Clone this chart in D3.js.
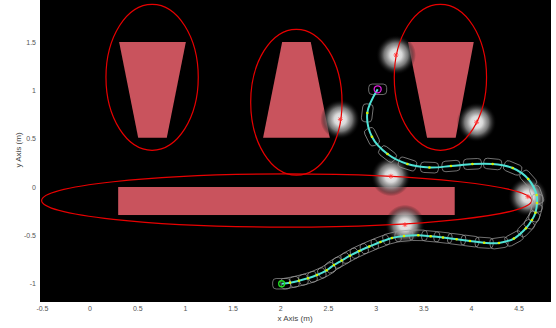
<!DOCTYPE html>
<html>
<head>
<meta charset="utf-8">
<script src="https://cdn.jsdelivr.net/npm/d3@7"></script>
<style>
  body { margin: 0; background: #fff; }
  text { font-family: "Liberation Sans", Arial, sans-serif; }
</style>
</head>
<body>
<svg id="chart" width="556" height="328"></svg>
<script>
// ticks
var xTicks = [-0.5, 0, 0.5, 1, 1.5, 2, 2.5, 3, 3.5, 4, 4.5];
var yTicks = [-1, -0.5, 0, 0.5, 1, 1.5];

// trapezoid obstacles: top left/right x, bottom left/right x, top y, bottom y
var trapTopL = [0.31, 2.02, 3.34];
var trapTopR = [1.01, 2.32, 4.03];
var trapBotL = [0.51, 1.82, 3.54];
var trapBotR = [0.81, 2.52, 3.84];
var trapTopY = [1.5, 1.5, 1.5];
var trapBotY = [0.51, 0.51, 0.51];

// long rectangle obstacle [x0, x1, y0, y1]
var wallRect = [0.30, 3.83, -0.29, 0.0];

// safety ellipses
var ellCx = [0.656, 2.169, 3.68, 2.067];
var ellCy = [1.135, 0.877, 1.135, -0.14];
var ellRx = [0.484, 0.479, 0.484, 2.57];
var ellRy = [0.755, 0.755, 0.755, 0.275];

// dynamic obstacles (glow blobs)
var blobX = [2.630, 3.161, 3.214, 4.060, 4.598, 3.308];
var blobY = [0.700, 0.111, 1.366, 0.670, -0.100, -0.390];

// trajectory waypoints
var pathX = [2.015, 2.102, 2.196, 2.291, 2.385, 2.487, 2.563, 2.644, 2.731, 2.829,
             2.934, 3.051, 3.172, 3.298, 3.448, 3.578, 3.707, 3.850, 3.990, 4.139,
             4.294, 4.451, 4.577, 4.640, 4.677, 4.693, 4.689, 4.601, 4.438, 4.228,
             4.016, 3.791, 3.565, 3.334, 3.125, 2.962, 2.913, 3.022];
var pathY = [-1.001, -0.990, -0.970, -0.945, -0.911, -0.862, -0.807, -0.761, -0.711, -0.662,
             -0.616, -0.569, -0.528, -0.507, -0.500, -0.510, -0.523, -0.541, -0.559, -0.577,
             -0.579, -0.533, -0.427, -0.341, -0.266, -0.166, -0.083, 0.083, 0.197, 0.238,
             0.238, 0.217, 0.202, 0.238, 0.341, 0.520, 0.766, 1.011];

var svg = d3.select("#chart");

// plot box (note: "top" is reserved on window, so use pLeft etc.)
var pLeft = 40, pRight = 551, pTop = 0, pBottom = 302;

var x = d3.scaleLinear().domain([-0.52, 4.84]).range([pLeft, pRight]);
var y = d3.scaleLinear().domain([-1.19, 1.935]).range([pBottom, pTop]);

var defs = svg.append("defs");
defs.append("clipPath").attr("id", "clip")
    .append("rect")
    .attr("x", pLeft).attr("y", pTop)
    .attr("width", pRight - pLeft).attr("height", pBottom - pTop);

var glow = defs.append("radialGradient").attr("id", "glow");
glow.append("stop").attr("offset", "0%").attr("stop-color", "#f4f4f4").attr("stop-opacity", 1);
glow.append("stop").attr("offset", "30%").attr("stop-color", "#d8d8d8").attr("stop-opacity", 1);
glow.append("stop").attr("offset", "60%").attr("stop-color", "#8a8a8a").attr("stop-opacity", 0.85);
glow.append("stop").attr("offset", "82%").attr("stop-color", "#333").attr("stop-opacity", 0.5);
glow.append("stop").attr("offset", "100%").attr("stop-color", "#000").attr("stop-opacity", 0);

// background
svg.append("rect")
    .attr("x", pLeft).attr("y", pTop)
    .attr("width", pRight - pLeft).attr("height", pBottom - pTop)
    .attr("fill", "#000");

var plot = svg.append("g").attr("clip-path", "url(#clip)");

// obstacles
var traps = d3.range(trapTopL.length).map(function(i) {
    return [[trapTopL[i], trapTopY[i]], [trapTopR[i], trapTopY[i]],
            [trapBotR[i], trapBotY[i]], [trapBotL[i], trapBotY[i]]];
});
plot.selectAll(".trap")
    .data(traps)
    .enter().append("polygon")
    .attr("class", "trap")
    .attr("points", function(d) { return d.map(function(p) { return x(p[0]) + "," + y(p[1]); }).join(" "); })
    .attr("fill", "#c9535d");

plot.append("rect")
    .attr("x", x(wallRect[0]))
    .attr("y", y(wallRect[3]))
    .attr("width", x(wallRect[1]) - x(wallRect[0]))
    .attr("height", y(wallRect[2]) - y(wallRect[3]))
    .attr("fill", "#c9535d");

// blobs
var blobR = 20;
plot.selectAll(".blob")
    .data(blobX)
    .enter().append("circle")
    .attr("class", "blob")
    .attr("cx", function(d) { return x(d); })
    .attr("cy", function(d, i) { return y(blobY[i]); })
    .attr("r", blobR)
    .attr("fill", "url(#glow)");

// ellipses
plot.selectAll(".ell")
    .data(ellCx)
    .enter().append("ellipse")
    .attr("class", "ell")
    .attr("cx", function(d) { return x(d); })
    .attr("cy", function(d, i) { return y(ellCy[i]); })
    .attr("rx", function(d, i) { return x(ellRx[i]) - x(0); })
    .attr("ry", function(d, i) { return y(0) - y(ellRy[i]); })
    .attr("fill", "none")
    .attr("stroke", "#e80000")
    .attr("stroke-width", 1.2);

// blob centre stars
plot.selectAll(".star")
    .data(blobX)
    .enter().append("path")
    .attr("class", "star")
    .attr("transform", function(d, i) { return "translate(" + x(d) + "," + y(blobY[i]) + ")"; })
    .attr("d", "M-2.5,0L2.5,0M0,-2.5L0,2.5M-1.8,-1.8L1.8,1.8M-1.8,1.8L1.8,-1.8")
    .attr("stroke", "#ff3030")
    .attr("stroke-width", 0.8)
    .attr("fill", "none");

// footprints along the path
var pts = pathX.map(function(d, i) { return [x(d), y(pathY[i])]; });
var heading = pts.map(function(p, i) {
    if (i === 0 || i === pts.length - 1) return 0; // start and goal poses face +x
    var a = pts[i - 1], b = pts[i + 1];
    return Math.atan2(b[1] - a[1], b[0] - a[0]) * 180 / Math.PI;
});
var fpL = 18, fpW = 10.5;
plot.selectAll(".fp")
    .data(pts)
    .enter().append("rect")
    .attr("class", "fp")
    .attr("x", -fpL / 2).attr("y", -fpW / 2)
    .attr("width", fpL).attr("height", fpW)
    .attr("rx", 3.5).attr("ry", 3.5)
    .attr("transform", function(d, i) { return "translate(" + d[0] + "," + d[1] + ") rotate(" + heading[i] + ")"; })
    .attr("fill", "none")
    .attr("stroke", "#9a9a9a")
    .attr("stroke-width", 0.7);

// path line
var line = d3.line()
    .x(function(d) { return d[0]; })
    .y(function(d) { return d[1]; })
    .curve(d3.curveCatmullRom);

plot.append("path")
    .datum(pts)
    .attr("d", line)
    .attr("fill", "none")
    .attr("stroke", "#4fe3d6")
    .attr("stroke-width", 2);

plot.selectAll(".dot")
    .data(pts.slice(1, -1))
    .enter().append("circle")
    .attr("class", "dot")
    .attr("cx", function(d) { return d[0]; })
    .attr("cy", function(d) { return d[1]; })
    .attr("r", 1.3)
    .attr("fill", "#d8f000");

// start / goal markers
plot.append("circle")
    .attr("cx", pts[0][0]).attr("cy", pts[0][1])
    .attr("r", 3)
    .attr("fill", "none").attr("stroke", "#22dd22").attr("stroke-width", 1.3);
plot.append("circle")
    .attr("cx", pts[pts.length - 1][0]).attr("cy", pts[pts.length - 1][1])
    .attr("r", 3.5)
    .attr("fill", "none").attr("stroke", "#e020e0").attr("stroke-width", 1.3);

// axes
var fmt = function(d) { return String(d); };
var xAxis = d3.axisBottom(x).tickValues(xTicks).tickSize(0).tickPadding(4).tickFormat(fmt);
var yAxis = d3.axisLeft(y).tickValues(yTicks).tickSize(0).tickPadding(4).tickFormat(fmt);

var gX = svg.append("g").attr("transform", "translate(0," + pBottom + ")").call(xAxis);
var gY = svg.append("g").attr("transform", "translate(" + pLeft + ",0)").call(yAxis);
[gX, gY].forEach(function(g) {
    g.select(".domain").remove();
    g.selectAll("text").attr("fill", "#555").style("font-size", "7px")
        .style("font-family", "'Liberation Sans', Arial, sans-serif");
});

svg.append("text")
    .attr("x", 295).attr("y", 321)
    .attr("text-anchor", "middle")
    .attr("fill", "#444").style("font-size", "8px")
    .text("x Axis (m)");

svg.append("text")
    .attr("transform", "translate(21,150) rotate(-90)")
    .attr("text-anchor", "middle")
    .attr("fill", "#444").style("font-size", "8px")
    .text("y Axis (m)");
</script>
</body>
</html>
